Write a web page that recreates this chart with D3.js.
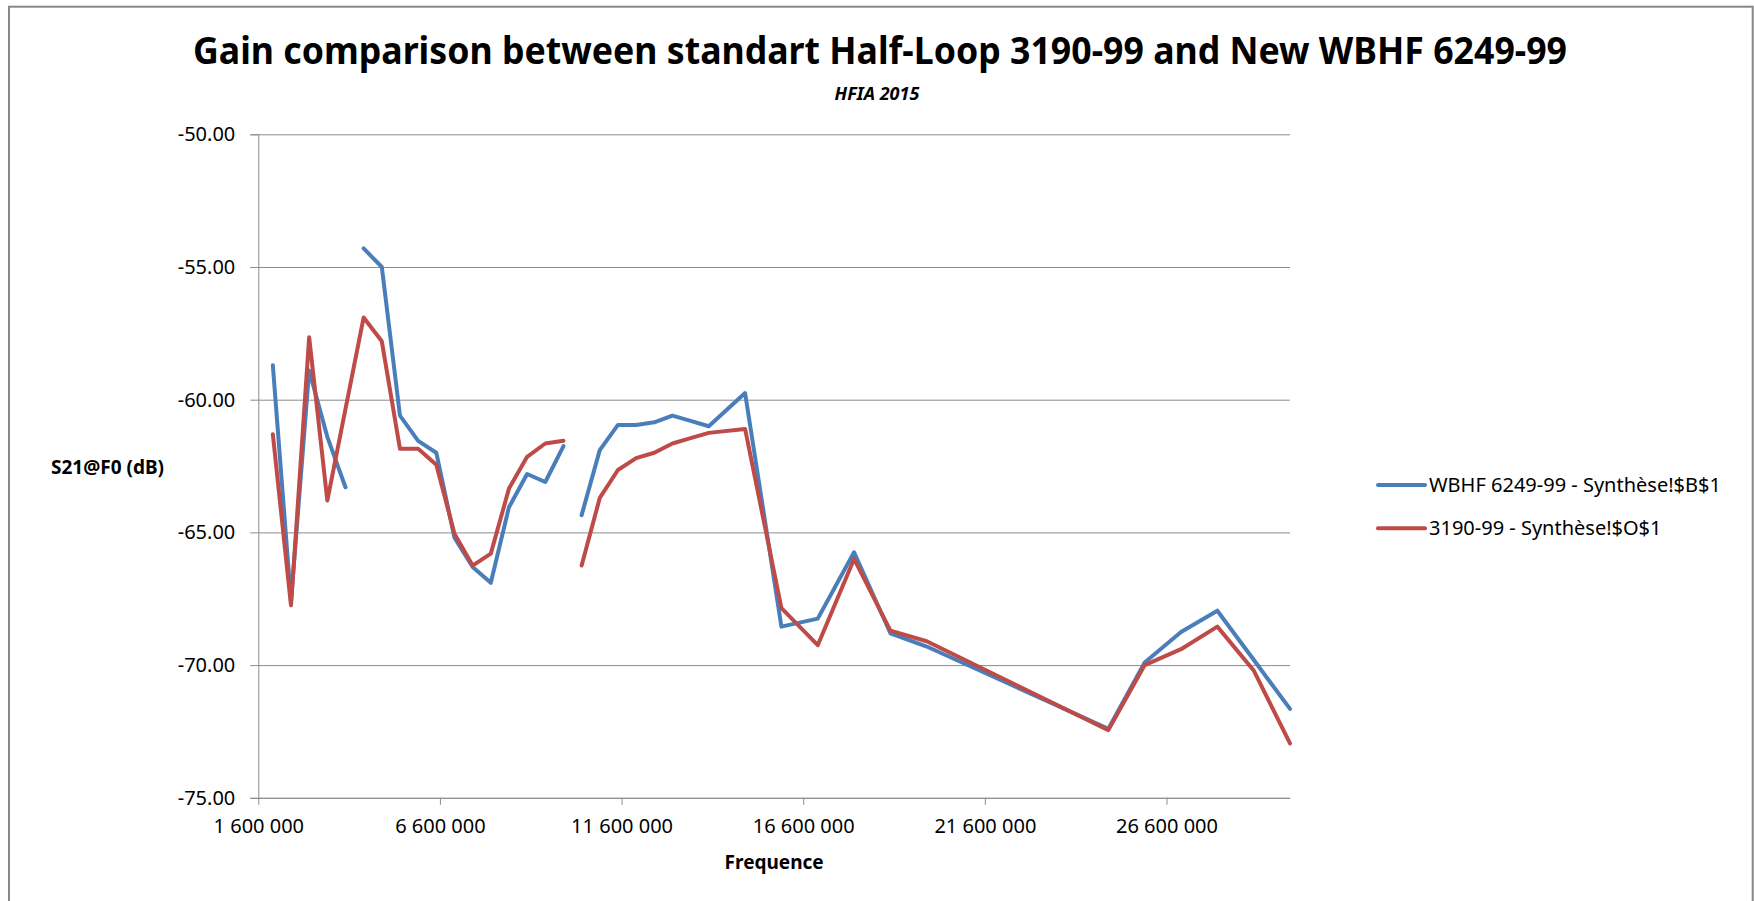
<!DOCTYPE html>
<html>
<head>
	<title>Gain comparison</title>
	<script src="https://d3js.org/d3.v7.min.js"></script>
	<style>
		body { margin: 0; background: #fff; }
		text { font-family: "Noto Sans", "Open Sans", sans-serif; fill: #000; }
	</style>
</head>
<body>
	<div id="chart"></div>

	<script>
		// Frequencies (Hz) of the measurement points
		const freqs = [
			2000000, 2500000, 3000000, 3500000, 4000000, 4500000, 5000000, 5500000,
			6000000, 6500000, 7000000, 7500000, 8000000, 8500000, 9000000, 9500000,
			10000000, 10500000, 11000000, 11500000, 12000000, 12500000, 13000000, 13500000,
			14000000, 15000000, 16000000, 17000000, 18000000, 19000000, 20000000,
			25000000, 26000000, 27000000, 28000000, 29000000, 30000000
		];

		// S21@F0 (dB), null = no measurement
		const wbhf = [
			-58.7, -67.6, -58.9, -61.4, -63.3, -54.3, -55.0, -60.6,
			-61.55, -62.0, -65.2, -66.3, -66.9, -64.05, -62.8, -63.1,
			-61.75, -64.35, -61.9, -60.95, -60.95, -60.85, -60.6, -60.8,
			-61.0, -59.75, -68.55, -68.25, -65.75, -68.8, -69.3,
			-72.4, -69.9, -68.75, -67.95, -69.8, -71.65
		];
		const hl3190 = [
			-61.3, -67.75, -57.65, -63.8, null, -56.9, -57.8, -61.85,
			-61.85, -62.45, -65.05, -66.25, -65.8, -63.35, -62.15, -61.65,
			-61.55, -66.25, -63.7, -62.65, -62.2, -62.0, -61.65, -61.45,
			-61.25, -61.1, -67.85, -69.25, -66.0, -68.7, -69.1,
			-72.45, -70.0, -69.4, -68.55, -70.2, -72.95
		];

		// frequencies where the line starts a new piece (blank rows in the sheet)
		const wbhfBreaks = [4500000, 10500000];
		const hl3190Breaks = [10500000];

		const seriesNames = ["WBHF 6249-99 - Synthèse!$B$1", "3190-99 - Synthèse!$O$1"];
		const seriesColors = ["#4A7EBB", "#BE4B48"];

		const xTicks = [1600000, 6600000, 11600000, 16600000, 21600000, 26600000];
		const yTicks = [-50, -55, -60, -65, -70, -75];

		const W = 1754, H = 901;
		const margin = { top: 134.3, right: 464, bottom: 103.2, left: 258.3 };
		const width = W - margin.left - margin.right;
		const height = H - margin.top - margin.bottom;

		const svg = d3.select("#chart")
			.append("svg")
			.attr("width", W)
			.attr("height", H);

		// outer frame
		svg.append("rect")
			.attr("x", 9).attr("y", 6.7)
			.attr("width", 1743.7).attr("height", 910)
			.attr("fill", "none")
			.attr("stroke", "#878787")
			.attr("stroke-width", 2);

		const g = svg.append("g")
			.attr("transform", `translate(${margin.left},${margin.top})`);

		const x = d3.scaleLinear().domain([1600000, 30000000]).range([0, width]);
		const y = d3.scaleLinear().domain([-75, -50]).range([height, 0]);

		const spaceFmt = d3.formatLocale({ decimal: ",", thousands: " ", grouping: [3], currency: ["", ""] }).format(",d");
		const gridColor = "#8c8c8c";

		// horizontal gridlines
		g.append("g")
			.call(d3.axisLeft(y).tickValues(yTicks).tickSize(-width).tickFormat(""))
			.call(a => a.select(".domain").remove())
			.selectAll("line").attr("stroke", gridColor);

		// y axis with outward ticks
		g.append("g")
			.call(d3.axisLeft(y).tickValues(yTicks).tickSize(8).tickPadding(15).tickFormat(d => d.toFixed(2)))
			.call(a => a.select(".domain").attr("stroke", gridColor))
			.call(a => a.selectAll("line").attr("stroke", gridColor))
			.call(a => a.selectAll("text").attr("font-size", 20).attr("fill", "#111").style("font-family", "'Noto Sans', sans-serif"));

		// x axis
		g.append("g")
			.attr("transform", `translate(0,${height})`)
			.call(d3.axisBottom(x).tickValues(xTicks).tickSize(7).tickPadding(14).tickFormat(spaceFmt).tickSizeOuter(0))
			.call(a => a.select(".domain").attr("stroke", gridColor))
			.call(a => a.selectAll("line").attr("stroke", gridColor))
			.call(a => a.selectAll("text").attr("font-size", 20).attr("fill", "#111").style("font-family", "'Noto Sans', sans-serif"));

		// build line pieces for one series
		function pieces(vals, breaks) {
			const out = [];
			let cur = [];
			freqs.forEach((f, i) => {
				if (breaks.includes(f) && cur.length) { out.push(cur); cur = []; }
				if (vals[i] != null) cur.push([f, vals[i]]);
			});
			if (cur.length) out.push(cur);
			return out;
		}

		const line = d3.line().x(d => x(d[0])).y(d => y(d[1]));

		[[wbhf, wbhfBreaks], [hl3190, hl3190Breaks]].forEach(([vals, brk], k) => {
			g.append("g")
				.selectAll("path")
				.data(pieces(vals, brk))
				.enter()
				.append("path")
				.attr("d", line)
				.attr("fill", "none")
				.attr("stroke", seriesColors[k])
				.attr("stroke-width", 4)
				.attr("stroke-linejoin", "round")
				.attr("stroke-linecap", "round");
		});

		// titles
		svg.append("text")
			.attr("x", 880).attr("y", 64)
			.attr("text-anchor", "middle")
			.attr("font-size", 38).attr("font-weight", "bold")
			.attr("textLength", 1374).attr("lengthAdjust", "spacingAndGlyphs")
			.text("Gain comparison between standart Half-Loop 3190-99 and New WBHF 6249-99");

		svg.append("text")
			.attr("x", 877).attr("y", 100)
			.attr("text-anchor", "middle")
			.attr("font-size", 18).attr("font-weight", "bold").attr("font-style", "italic")
			.text("HFIA 2015");

		svg.append("text")
			.attr("x", 164).attr("y", 474)
			.attr("text-anchor", "end")
			.attr("font-size", 19).attr("font-weight", "bold")
			.text("S21@F0 (dB)");

		svg.append("text")
			.attr("x", margin.left + width / 2).attr("y", 869)
			.attr("text-anchor", "middle")
			.attr("font-size", 19).attr("font-weight", "bold")
			.text("Frequence");

		// legend
		const legend = svg.append("g").attr("transform", "translate(1378,485)");
		seriesNames.forEach((name, i) => {
			const row = legend.append("g").attr("transform", `translate(0,${i * 43.3})`);
			row.append("line")
				.attr("x1", 0).attr("x2", 47)
				.attr("stroke", seriesColors[i])
				.attr("stroke-width", 4)
				.attr("stroke-linecap", "round");
			row.append("text")
				.attr("x", 51).attr("dy", "0.35em")
				.attr("font-size", 20).attr("fill", "#111")
				.text(name);
		});
	</script>
</body>
</html>
